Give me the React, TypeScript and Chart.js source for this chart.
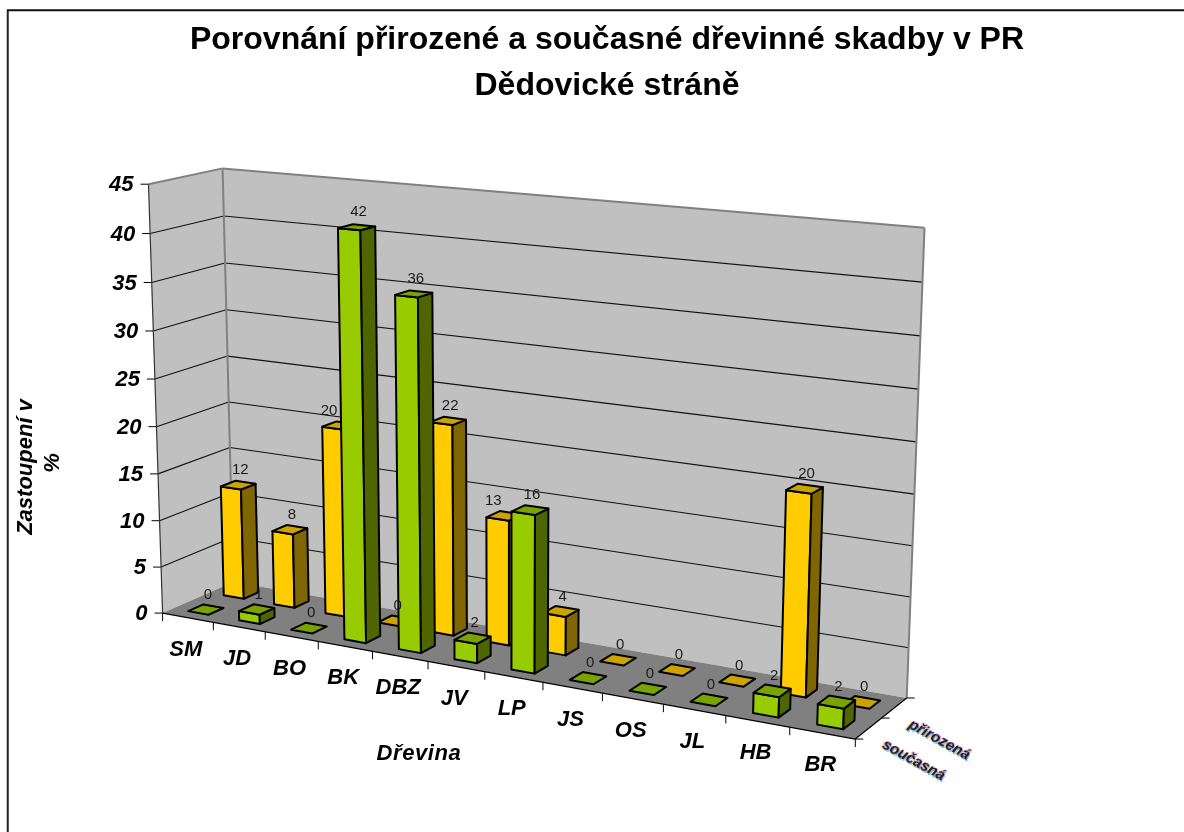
import React, { useEffect, useRef } from "react";
import { Chart, registerables } from "chart.js";

Chart.register(...registerables);

const categories = ["SM", "JD", "BO", "BK", "DBZ", "JV", "LP", "JS", "OS", "JL", "HB", "BR"];
const soucasna = [0, 1, 0, 42, 36, 2, 16, 0, 0, 0, 2, 2];
const prirozena = [12, 8, 20, 0, 22, 13, 4, 0, 0, 0, 20, 0];
const titleLines = ["Porovnání přirozené a současné dřevinné skadby v PR", "Dědovické stráně"];
const yTitleLines = ["Zastoupení v", "%"];
const xTitle = "Dřevina";

const FONT = '"Liberation Sans"';
type V3 = [number, number, number];

// Reference corners of the 3D box: (along categories, value height, depth) -> picture.
const calibration: [number, number, number, number, number][] = [
  [0, 0, 0, 162, 612.5],
  [1, 0, 0, 855, 740],
  [0, 0, 1, 234, 582.5],
  [1, 0, 1, 907, 697],
  [0, 1, 0, 149, 184],
  [0, 1, 1, 222, 168],
  [1, 1, 1, 925, 228],
  [1, 40 / 45, 1, 922, 282],
  [0, 40 / 45, 0, 150.5, 233.5],
  [0, 40 / 45, 1, 223.5, 216.5],
];

function solve(A: number[][], b: number[]): number[] {
  const n = b.length;
  const M = A.map((r, i) => [...r, b[i]]);
  for (let i = 0; i < n; i++) {
    let p = i;
    for (let k = i + 1; k < n; k++) if (Math.abs(M[k][i]) > Math.abs(M[p][i])) p = k;
    [M[i], M[p]] = [M[p], M[i]];
    for (let k = 0; k < n; k++) {
      if (k === i) continue;
      const f = M[k][i] / M[i][i];
      for (let j = i; j <= n; j++) M[k][j] -= f * M[i][j];
    }
  }
  return M.map((r, i) => r[n] / r[i]);
}

function fitProjection() {
  const rows: number[][] = [];
  const rhs: number[] = [];
  for (const [u, v, d, x, y] of calibration) {
    rows.push([1, u, v, d, 0, 0, 0, 0, -x * u, -x * v, -x * d]);
    rhs.push(x);
    rows.push([0, 0, 0, 0, 1, u, v, d, -y * u, -y * v, -y * d]);
    rhs.push(y);
  }
  const N = 11;
  const AtA = Array.from({ length: N }, (_, i) =>
    Array.from({ length: N }, (_, j) => rows.reduce((s, r) => s + r[i] * r[j], 0))
  );
  const Atb = Array.from({ length: N }, (_, i) => rows.reduce((s, r, k) => s + r[i] * rhs[k], 0));
  return solve(AtA, Atb);
}
const H = fitProjection();
function project([u, v, d]: V3): [number, number] {
  const w = 1 + H[8] * u + H[9] * v + H[10] * d;
  return [(H[0] + H[1] * u + H[2] * v + H[3] * d) / w, (H[4] + H[5] * u + H[6] * v + H[7] * d) / w];
}

function quad(ctx: CanvasRenderingContext2D, pts: V3[], fill: string | null, stroke: string | null, lw = 1) {
  ctx.beginPath();
  pts.forEach((p, i) => {
    const [x, y] = project(p);
    if (i === 0) ctx.moveTo(x, y);
    else ctx.lineTo(x, y);
  });
  ctx.closePath();
  if (fill) {
    ctx.fillStyle = fill;
    ctx.fill();
  }
  if (stroke) {
    ctx.strokeStyle = stroke;
    ctx.lineWidth = lw;
    ctx.lineJoin = "round";
    ctx.stroke();
  }
}
function seg(ctx: CanvasRenderingContext2D, a: [number, number], b: [number, number], color: string, lw: number) {
  ctx.beginPath();
  ctx.moveTo(a[0], a[1]);
  ctx.lineTo(b[0], b[1]);
  ctx.strokeStyle = color;
  ctx.lineWidth = lw;
  ctx.stroke();
}

const rows = [
  { center: 0.25, front: "#99CC00", side: "#4F6600", top: "#7AA300" },
  { center: 0.75, front: "#FFCC00", side: "#806600", top: "#CCA300" },
];
const DEPTH = 0.21;

const box3d = {
  id: "box3d",
  beforeDatasetsDraw(chart: any) {
    const { ctx, chartArea: a } = chart;
    const yS = chart.scales.y;
    const xS = chart.scales.x;
    ctx.save();
    // frame: only the top and left edges fall inside the picture
    seg(ctx, [7.75, 832], [7.75, 10], "#222", 2);
    seg(ctx, [7, 10.25], [1184, 10.25], "#111", 2);
    // walls and floor
    quad(ctx, [[0, 0, 0], [0, 1, 0], [0, 1, 1], [0, 0, 1]], "#C0C0C0", null);
    quad(ctx, [[0, 0, 1], [0, 1, 1], [1, 1, 1], [1, 0, 1]], "#C0C0C0", null);
    quad(ctx, [[0, 0, 0], [1, 0, 0], [1, 0, 1], [0, 0, 1]], "#808080", null);
    // gridlines
    for (const t of yS.ticks) {
      const v = (a.bottom - yS.getPixelForValue(t.value)) / (a.bottom - a.top);
      const f = project([0, v, 0]);
      if (t.value > 0 && t.value < 45) {
        const b = project([0, v, 1]);
        const r = project([1, v, 1]);
        seg(ctx, f, b, "#111", 1.1);
        seg(ctx, b, r, "#111", 1.1);
      }
      seg(ctx, [f[0] - 8, f[1]], f, "#000", 1);
      ctx.font = `italic bold 22px ${FONT}`;
      ctx.fillStyle = "#000";
      ctx.textAlign = "right";
      ctx.textBaseline = "middle";
      ctx.fillText(String(t.value), f[0] - 15, f[1] + 1);
    }
    // wall outlines
    seg(ctx, project([0, 1, 0]), project([0, 1, 1]), "#808080", 2);
    seg(ctx, project([0, 1, 1]), project([1, 1, 1]), "#808080", 2);
    seg(ctx, project([1, 1, 1]), project([1, 0, 1]), "#808080", 2);
    seg(ctx, project([0, 1, 1]), project([0, 0, 1]), "#808080", 2);
    seg(ctx, project([0, 1, 0]), project([0, 0, 0]), "#333", 1.2);
    // floor edges
    seg(ctx, project([0, 0, 0]), project([1, 0, 0]), "#000", 1.2);
    seg(ctx, project([1, 0, 0]), project([1, 0, 1]), "#000", 1.2);
    // category ticks and labels
    const n = categories.length;
    for (let i = 0; i <= n; i++) {
      const p = project([i / n, 0, 0]);
      seg(ctx, p, [p[0], p[1] + 8], "#000", 1);
    }
    categories.forEach((c, i) => {
      const u = (xS.getPixelForValue(i) - a.left) / (a.right - a.left);
      const p = project([u, 0, 0]);
      ctx.font = `italic bold 22px ${FONT}`;
      ctx.fillStyle = "#000";
      ctx.textAlign = "center";
      ctx.textBaseline = "middle";
      ctx.fillText(c, p[0] - 2, p[1] + 32);
    });
    // depth ticks and series labels
    [0, 0.5, 1].forEach((d) => {
      const p = project([1, 0, d]);
      seg(ctx, p, [p[0] + 8, p[1]], "#000", 1);
    });
    chart.data.datasets.forEach((ds: any, k: number) => {
      const p = project([1, 0, rows[k].center]);
      const fringes: [string, number, number][] = [
        ["#FFC040AA", -1.5, 0.8],
        ["#30B0F0AA", 1.5, 1.2],
        ["#C020C088", 0.5, -0.8],
        ["#000000CC", 0, 0],
      ];
      ctx.save();
      ctx.translate(p[0] + 45, p[1] + 32);
      ctx.rotate((29 * Math.PI) / 180);
      ctx.font = `italic bold 15px ${FONT}`;
      ctx.textAlign = "center";
      ctx.textBaseline = "middle";
      for (const [col, dx, dy] of fringes) {
        ctx.fillStyle = col;
        ctx.fillText(ds.label, dx, dy);
      }
      ctx.restore();
    });
    // axis titles
    ctx.fillStyle = "#000";
    ctx.font = `italic bold 22px ${FONT}`;
    ctx.textAlign = "center";
    ctx.textBaseline = "middle";
    ctx.save();
    (ctx as any).letterSpacing = "0.6px";
    ctx.fillText(xTitle, 419, 754);
    ctx.restore();
    yTitleLines.forEach((line, i) => {
      ctx.save();
      ctx.translate(26 + i * 27, i === 0 ? 467 : 463);
      ctx.rotate(-Math.PI / 2);
      ctx.fillText(line, 0, 0);
      ctx.restore();
    });
    // bars: back row first, left to right
    for (const k of [1, 0]) {
      const meta = chart.getDatasetMeta(k);
      const c = rows[k];
      const d0 = c.center - DEPTH / 2;
      const d1 = c.center + DEPTH / 2;
      meta.data.forEach((el: any) => {
        const u0 = (el.x - el.width / 2 - a.left) / (a.right - a.left);
        const u1 = (el.x + el.width / 2 - a.left) / (a.right - a.left);
        const v = (a.bottom - el.y) / (a.bottom - a.top);
        const lw = 2;
        if (v > 0) {
          quad(ctx, [[u0, 0, d0], [u1, 0, d0], [u1, v, d0], [u0, v, d0]], c.front, "#000", lw);
          quad(ctx, [[u1, 0, d0], [u1, 0, d1], [u1, v, d1], [u1, v, d0]], c.side, "#000", lw);
        }
        quad(ctx, [[u0, v, d0], [u1, v, d0], [u1, v, d1], [u0, v, d1]], c.top, "#000", lw);
      });
    }
    // value labels
    ctx.font = `15px ${FONT}`;
    ctx.fillStyle = "#1a1a1a";
    ctx.textAlign = "center";
    ctx.textBaseline = "middle";
    for (const k of [1, 0]) {
      const meta = chart.getDatasetMeta(k);
      const ds = chart.data.datasets[k];
      meta.data.forEach((el: any, i: number) => {
        const u = (el.x - a.left) / (a.right - a.left);
        const v = (a.bottom - el.y) / (a.bottom - a.top);
        const p = project([u, v, rows[k].center]);
        // the label of a bar hidden behind the next, taller column sits to its left, as in the source chart
        const hidden = k === 1 && ds.data[i] > 0 && (chart.data.datasets[0].data[i + 1] ?? 0) > ds.data[i];
        ctx.fillText(String(ds.data[i]), p[0] + 2 - (hidden ? 13 : 0), p[1] - 15);
      });
    }
    ctx.restore();
  },
  beforeDatasetDraw() {
    return false;
  },
};

export default function App() {
  const ref = useRef<HTMLCanvasElement>(null);
  useEffect(() => {
    const chart = new Chart(ref.current!, {
      type: "bar",
      data: {
        labels: categories,
        datasets: [
          { label: "současná", data: soucasna, grouped: false, barPercentage: 0.4, categoryPercentage: 1, backgroundColor: "#99CC00" },
          { label: "přirozená", data: prirozena, grouped: false, barPercentage: 0.4, categoryPercentage: 1, backgroundColor: "#FFCC00" },
        ],
      },
      options: {
        responsive: false,
        animation: false,
        events: [],
        layout: { padding: { left: 30, right: 0, top: 17, bottom: 0 } },
        scales: {
          x: { display: false },
          y: { display: false, min: 0, max: 45, ticks: { stepSize: 5 } },
        },
        plugins: {
          legend: { display: false },
          tooltip: { enabled: false },
          title: {
            display: true,
            fullSize: false,
            text: titleLines,
            color: "#000",
            font: { family: FONT, size: 32, weight: "bold", lineHeight: 46 / 32 },
            padding: 0,
          },
        },
      } as any,
      plugins: [box3d as any],
    });
    return () => chart.destroy();
  }, []);
  return (
    <div style={{ position: "fixed", left: 0, top: 0, width: 1184, height: 832, background: "#fff" }}>
      <canvas ref={ref} width={1184} height={832} style={{ display: "block" }} />
    </div>
  );
}
